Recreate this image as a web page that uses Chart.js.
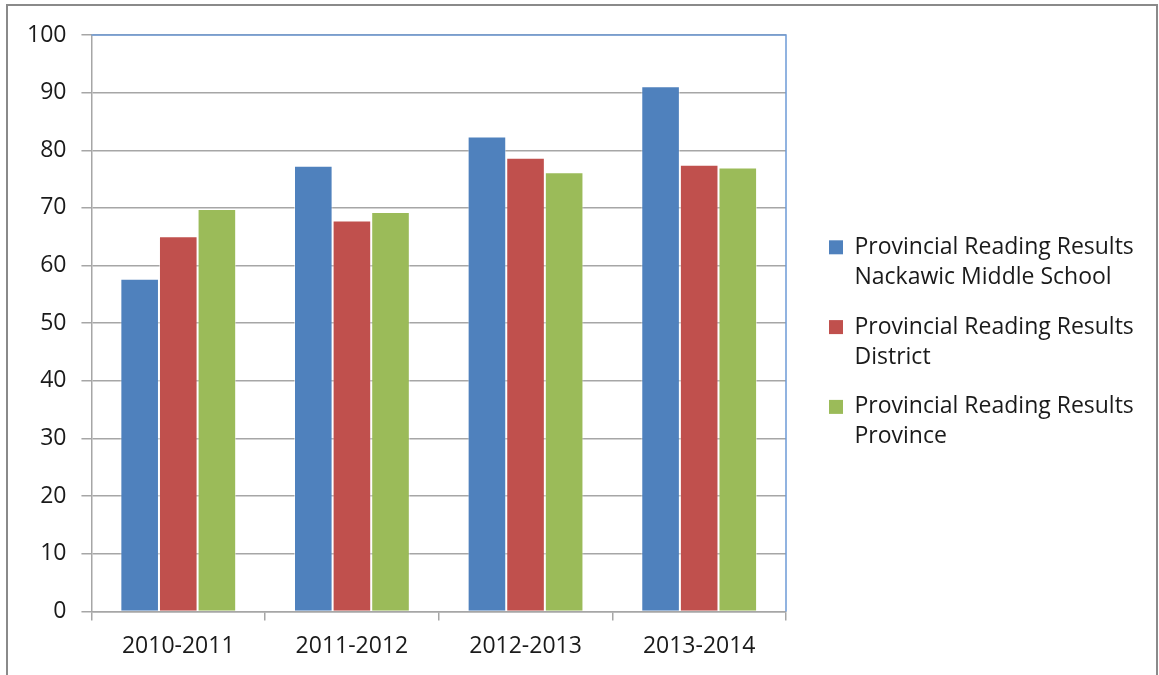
<!DOCTYPE html>
<html>
<head>
<meta charset="utf-8">
<script src="https://cdn.jsdelivr.net/npm/chart.js@4.4.1/dist/chart.umd.min.js"></script>
<style>
  html, body { margin: 0; padding: 0; background: #ffffff; }
  #wrap { position: relative; width: 1159px; height: 675px; }
  canvas { display: block; }
</style>
</head>
<body>
<div id="wrap"><canvas id="c" width="1159" height="675"></canvas></div>
<script>
const categories = ["2010-2011", "2011-2012", "2012-2013", "2013-2014"];
const seriesNames = [
  ["Provincial Reading Results", "Nackawic Middle School"],
  ["Provincial Reading Results", "District"],
  ["Provincial Reading Results", "Province"]
];
const schoolValues = [57.7, 77.3, 82.4, 91.1];
const districtValues = [65.1, 67.8, 78.7, 77.5];
const provinceValues = [69.8, 69.3, 76.2, 77.0];
const seriesColors = ["#4f81bd", "#c0504d", "#9bbb59"];
const yTicks = [0, 10, 20, 30, 40, 50, 60, 70, 80, 90, 100];

const FONT = "'Open Sans', 'Noto Sans', 'Liberation Sans', sans-serif";
const LEGEND_WIDTH = 373;   // space reserved for the legend column
const LEGEND_SHIFT_X = 23;  // gap between plot border and legend boxes
const LEGEND_SHIFT_Y = -8;

const frame = {
  id: 'frame',
  beforeLayout(chart) {
    const lg = chart.legend;
    if (lg && !lg._patched) {
      lg._patched = true;
      const up = lg.update.bind(lg);
      lg.update = function (a, b, c) {
        up(a, b, c);
        this.width = LEGEND_WIDTH;
      };
      const dr = lg.draw.bind(lg);
      lg.draw = function (area) {
        const ctx = this.ctx;
        ctx.save();
        ctx.translate(LEGEND_SHIFT_X, LEGEND_SHIFT_Y);
        dr(area);
        ctx.restore();
      };
    }
  },
  beforeDraw(chart) {
    const ctx = chart.ctx;
    ctx.save();
    ctx.fillStyle = '#ffffff';
    ctx.fillRect(0, 0, chart.width, chart.height);
    ctx.strokeStyle = '#8a8a8a';
    ctx.lineWidth = 2;
    ctx.beginPath();
    ctx.moveTo(7, 675);
    ctx.lineTo(7, 5);
    ctx.lineTo(1157, 5);
    ctx.lineTo(1157, 675);
    ctx.stroke();
    ctx.restore();
  },
  afterDatasetsDraw(chart) {
    const a = chart.chartArea;
    const ctx = chart.ctx;
    ctx.save();
    ctx.strokeStyle = '#6d9bd6';
    ctx.lineWidth = 1.5;
    ctx.beginPath();
    ctx.moveTo(a.left, a.top);
    ctx.lineTo(a.right, a.top);
    ctx.lineTo(a.right, a.bottom);
    ctx.stroke();
    ctx.restore();
  }
};

const datasets = [schoolValues, districtValues, provinceValues].map((vals, i) => ({
  label: seriesNames[i].join(' '),
  data: vals,
  backgroundColor: seriesColors[i],
  borderColor: 'rgba(255,255,255,0.5)',
  borderWidth: 1,
  categoryPercentage: 0.667,
  barPercentage: 1.0
}));

new Chart(document.getElementById('c'), {
  type: 'bar',
  data: { labels: categories, datasets },
  plugins: [frame],
  options: {
    responsive: false,
    animation: false,
    devicePixelRatio: 1,
    layout: { padding: { top: 35, left: 12, right: 0, bottom: 3 } },
    plugins: {
      tooltip: { enabled: false },
      title: { display: false },
      legend: {
        position: 'right',
        align: 'center',
        labels: {
          color: '#1a1a1a',
          font: { family: FONT, size: 23, lineHeight: 1.3 },
          boxWidth: 14,
          boxHeight: 14,
          padding: 20,
          generateLabels(chart) {
            return chart.data.datasets.map((ds, i) => ({
              text: seriesNames[i],
              fillStyle: seriesColors[i],
              strokeStyle: seriesColors[i],
              lineWidth: 0,
              hidden: false,
              datasetIndex: i,
              fontColor: '#1a1a1a'
            }));
          }
        }
      }
    },
    scales: {
      x: {
        grid: {
          display: true,
          drawOnChartArea: false,
          drawTicks: true,
          tickLength: 9,
          color: '#a6a6a6',
          lineWidth: 1.5,
          offset: true
        },
        border: { display: true, color: '#a6a6a6', width: 1.5 },
        ticks: {
          color: '#1a1a1a',
          font: { family: FONT, size: 23 },
          padding: 12
        }
      },
      y: {
        min: 0,
        max: 100,
        afterBuildTicks(scale) {
          scale.ticks = yTicks.map(v => ({ value: v }));
        },
        grid: {
          color: (c) => (c.tick && c.tick.value === 100 && c.type !== 'tick') ? 'rgba(0,0,0,0)' : '#a6a6a6',
          lineWidth: 1.5,
          drawTicks: true,
          tickLength: 10,
          tickColor: '#a6a6a6'
        },
        border: { display: true, color: '#a6a6a6', width: 1.5 },
        ticks: {
          color: '#1a1a1a',
          font: { family: FONT, size: 23 },
          padding: 15
        }
      }
    }
  }
});
</script>
</body>
</html>
